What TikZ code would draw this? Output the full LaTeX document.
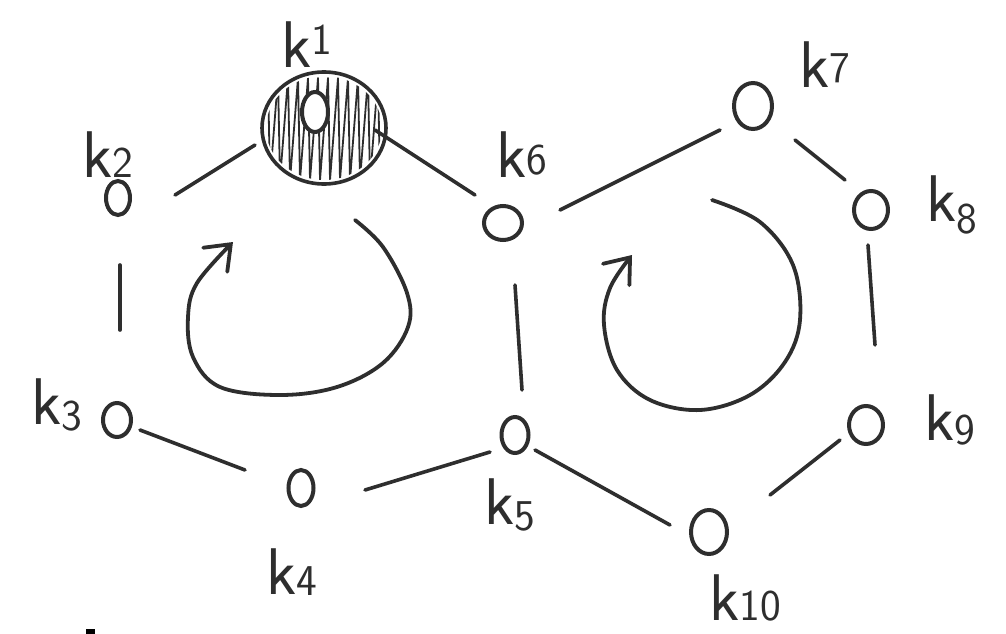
\documentclass[tikz,border=0pt]{standalone}
\usetikzlibrary{shapes.geometric,arrows.meta,calc}
\definecolor{ink}{HTML}{2E2E2E}
\newcommand\kl[2]{k\raisebox{#2}{\fontsize{44}{44}\selectfont #1}}
\tikzset{
  vtx/.style={ellipse,draw=ink,line width=4pt,inner sep=0pt,fill=white},
  lbl/.style={text=ink,font=\sffamily\fontsize{66}{66}\selectfont,inner sep=0pt},
  edge/.style={draw=ink,line width=3.6pt,line cap=round},
  loop/.style={draw=ink,line width=3.8pt,line cap=round,
    -{Straight Barb[length=22pt,width=34pt,line cap=round]}},
  hatch/.style={draw=ink,line width=1.8pt,line join=round}
}
\begin{document}
\begin{tikzpicture}[x=1pt,y=-1pt]
\useasboundingbox (0,0) rectangle (1006,634);
% big hatched circle around k1
\node[ellipse,draw=ink,line width=3.6pt,minimum width=124pt,minimum height=112pt,inner sep=0pt] (k1big) at (324,128) {};
\begin{scope}
  \clip (324,128) ellipse [x radius=58, y radius=52];
  \draw[hatch] (258,180) \foreach \i in {0,...,12}{ -- (268+10*\i,78) -- (270+10*\i,180)};
\end{scope}
% vertices
\node[vtx,minimum width=26pt,minimum height=40pt] (k1) at (315,112) {};
\node[vtx,minimum width=24pt,minimum height=34pt] (k2) at (118,198) {};
\node[vtx,minimum width=28pt,minimum height=34pt] (k3) at (117,420) {};
\node[vtx,minimum width=25pt,minimum height=36pt] (k4) at (301,488) {};
\node[vtx,minimum width=27pt,minimum height=36pt] (k5) at (515,435) {};
\node[vtx,minimum width=38pt,minimum height=34pt] (k6) at (503,223) {};
\node[vtx,minimum width=38pt,minimum height=46pt] (k7) at (753,106) {};
\node[vtx,minimum width=34pt,minimum height=38pt] (k8) at (871,210) {};
\node[vtx,minimum width=34pt,minimum height=38pt] (k9) at (866,425) {};
\node[vtx,minimum width=36pt,minimum height=44pt] (k10) at (709,532) {};
% labels
\node[lbl] (l1) at (307,45) {\kl{1}{0.2em}};
\node[lbl] (l2) at (108,155) {\kl{2}{0pt}};
\node[lbl] (l3) at (57,405) {\kl{3}{-0.08em}};
\node[lbl] (l4) at (292,572) {\kl{4}{-0.02em}};
\node[lbl] (l5) at (510,505) {\kl{5}{-0.08em}};
\node[lbl] (l6) at (522,155) {\kl{6}{0.05em}};
\node[lbl] (l7) at (825,65) {\kl{7}{0.08em}};
\node[lbl] (l8) at (952,205) {\kl{8}{-0.18em}};
\node[lbl] (l9) at (950,420) {\kl{9}{-0.05em}};
\node[lbl] (l10) at (745,598) {\kl{10}{0pt}};
% connectors
\draw[edge] ($(k2)+(57,-3)$) -- ($(k1big)+(-69,17)$);
\draw[edge] ($(k1big)+(51,2)$) -- ($(k6)+(-28,-28)$);
\draw[edge] ($(k2)+(2,67)$) -- ($(k3)+(3,-90)$);
\draw[edge] ($(k3)+(23,10)$) -- ($(k4)+(-56,-18)$);
\draw[edge] ($(k4)+(64,2)$) -- ($(k5)+(-25,17)$);
\draw[edge] ($(k5)+(7,-45)$) -- ($(k6)+(12,62)$);
\draw[edge] ($(k6)+(57,-13)$) -- ($(k7)+(-33,24)$);
\draw[edge] ($(k7)+(42,34)$) -- ($(k8)+(-26,-30)$);
\draw[edge] ($(k8)+(-3,35)$) -- ($(k9)+(9,-80)$);
\draw[edge] ($(k9)+(-26,15)$) -- ($(k10)+(61,-37)$);
\draw[edge] ($(k5)+(20,15)$) -- ($(k10)+(-39,-7)$);
% circulation arrows
\draw[loop] plot[smooth,tension=0.6] coordinates {(355,220) (383,247) (407,293) (408,327) (383,363) (337,387) (280,395) (220,387) (193,357) (188,317) (197,283) (233,242)};
\draw[loop] plot[smooth,tension=0.6] coordinates {(712,200) (760,222) (793,265) (800,320) (785,362) (750,395) (700,410) (650,400) (617,370) (604,325) (610,288) (632,255)};
% small mark at bottom
\fill[black] (86,629) rectangle (95,634);
\end{tikzpicture}
\end{document}
